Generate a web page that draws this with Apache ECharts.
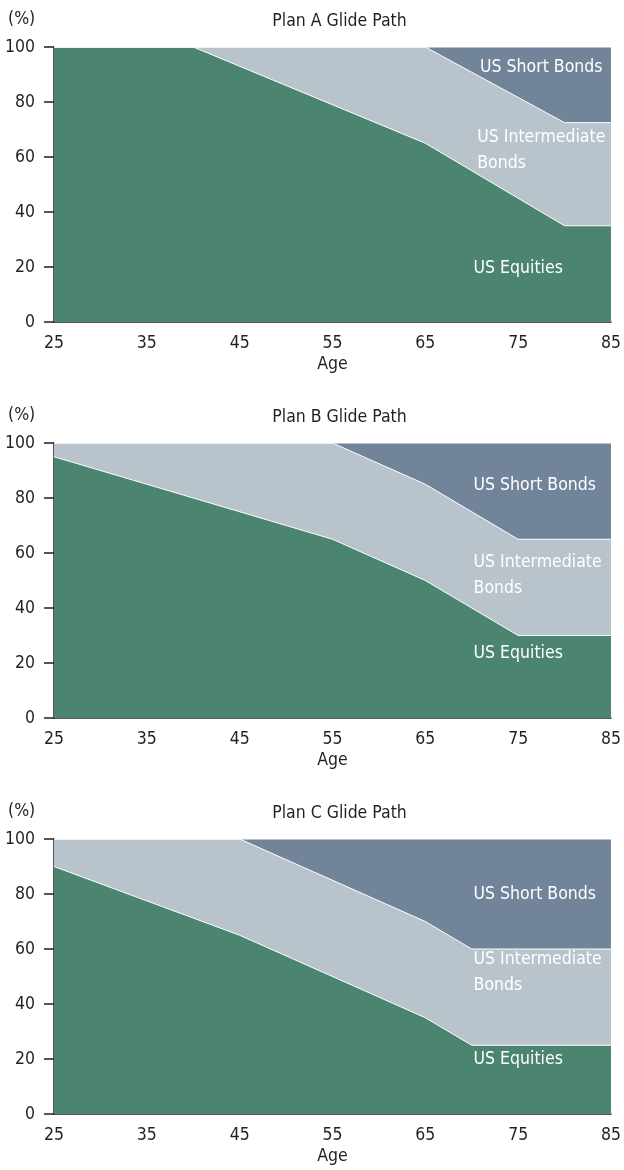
<!DOCTYPE html>
<html>
<head>
<meta charset="utf-8">
<script src="https://cdn.jsdelivr.net/npm/echarts@6/dist/echarts.min.js"></script>
<style>
html,body{margin:0;padding:0;background:#fff;}
#c{width:624px;height:1170px;}
</style>
</head>
<body>
<div id="c"></div>
<script>
// ---- data ----
const planTitles = ['Plan A Glide Path', 'Plan B Glide Path', 'Plan C Glide Path'];
const xTicks = [25, 35, 45, 55, 65, 75, 85];
const yTicks = [0, 20, 40, 60, 80, 100];

const agesA = [25, 40, 65, 80, 85];
const equitiesA = [100, 100, 65, 35, 35];
const intermediateA = [0, 0, 35, 37.5, 37.5];
const shortA = [0, 0, 0, 27.5, 27.5];

const agesB = [25, 55, 65, 75, 85];
const equitiesB = [95, 65, 50, 30, 30];
const intermediateB = [5, 35, 35, 35, 35];
const shortB = [0, 0, 15, 35, 35];

const agesC = [25, 45, 65, 70, 85];
const equitiesC = [90, 65, 35, 25, 25];
const intermediateC = [10, 35, 35, 35, 35];
const shortC = [0, 0, 30, 40, 40];

const seriesNames = ['US Equities', 'US Intermediate\nBonds', 'US Short Bonds'];

// ---- styling ----
const FONT = '"DejaVu Sans Condensed", "Liberation Sans Narrow", sans-serif';
const FS = 17.5;
const TXT = '#231f20';
const COLORS = ['#4b8570', '#b9c3cc', '#72849a'];
const gridTops = [47, 443, 839];
const GRID_H = 275;

const plans = [
  {ages: agesA, vals: [equitiesA, intermediateA, shortA],
   labelPos: [[70.2, 19.4], [70.6, 62.2], [70.9, 92.4]]},
  {ages: agesB, vals: [equitiesB, intermediateB, shortB],
   labelPos: [[70.2, 23.6], [70.2, 51.7], [70.2, 84.7]]},
  {ages: agesC, vals: [equitiesC, intermediateC, shortC],
   labelPos: [[70.2, 20.0], [70.2, 51.3], [70.2, 80.0]]}
];

// cumulative tops of the stacked bands (computed from the arrays above)
function cumulative(vals) {
  const out = [];
  vals.forEach((arr, k) => {
    out.push(arr.map((v, j) => (k ? out[k - 1][j] : 0) + v));
  });
  return out;
}

const grid = [], xAxis = [], yAxis = [], series = [], title = [], graphic = [];
plans.forEach((p, i) => {
  grid.push({left: 54, right: 9, top: gridTops[i], height: GRID_H});
  title.push({
    text: planTitles[i], left: 334.5, top: gridTops[i] - 40, textAlign: 'center',
    textStyle: {fontFamily: FONT, fontSize: FS, fontWeight: 'normal', color: TXT}
  });
  graphic.push({
    type: 'text', left: 8, top: gridTops[i] - 37,
    style: {text: '(%)', font: FS + 'px ' + FONT, fill: TXT}
  });
  xAxis.push({
    type: 'value', gridIndex: i, min: 25, max: 85, interval: 10,
    name: 'Age', nameLocation: 'middle', nameGap: 33,
    nameTextStyle: {fontFamily: FONT, fontSize: FS, color: TXT},
    axisLine: {show: true, lineStyle: {color: TXT, width: 1.5}},
    axisTick: {show: false, customValues: xTicks},
    axisLabel: {customValues: xTicks, fontFamily: FONT, fontSize: FS, color: TXT, margin: 12},
    splitLine: {show: false}
  });
  yAxis.push({
    type: 'value', gridIndex: i, min: 0, max: 100, interval: 20,
    axisLine: {show: true, lineStyle: {color: TXT, width: 1.5}},
    axisTick: {show: true, length: 10, lineStyle: {color: TXT, width: 1.5}},
    axisLabel: {fontFamily: FONT, fontSize: FS, color: TXT, margin: 19},
    splitLine: {show: false}
  });
  const tops = cumulative(p.vals);
  // draw the outermost band first so inner bands sit on top of it
  for (let k = tops.length - 1; k >= 0; k--) {
    const arr = tops[k];
    series.push({
      type: 'line', name: seriesNames[k], xAxisIndex: i, yAxisIndex: i,
      symbol: 'none', silent: true,
      data: p.ages.map((a, j) => [a, arr[j]]),
      lineStyle: {color: '#ffffff', width: 1},
      areaStyle: {color: COLORS[k], opacity: 1, origin: 'start'},
      markPoint: {
        symbol: 'circle', symbolSize: 0, silent: true,
        data: [{coord: p.labelPos[k]}],
        label: {
          show: true, position: 'inside', align: 'left', verticalAlign: 'middle',
          formatter: seriesNames[k], color: '#ffffff',
          fontFamily: FONT, fontSize: FS, lineHeight: 26
        }
      }
    });
  }
});

const chart = echarts.init(document.getElementById('c'), null, {renderer: 'canvas'});
chart.setOption({
  animation: false,
  backgroundColor: '#ffffff',
  title, grid, xAxis, yAxis, series, graphic
});
</script>
</body>
</html>
